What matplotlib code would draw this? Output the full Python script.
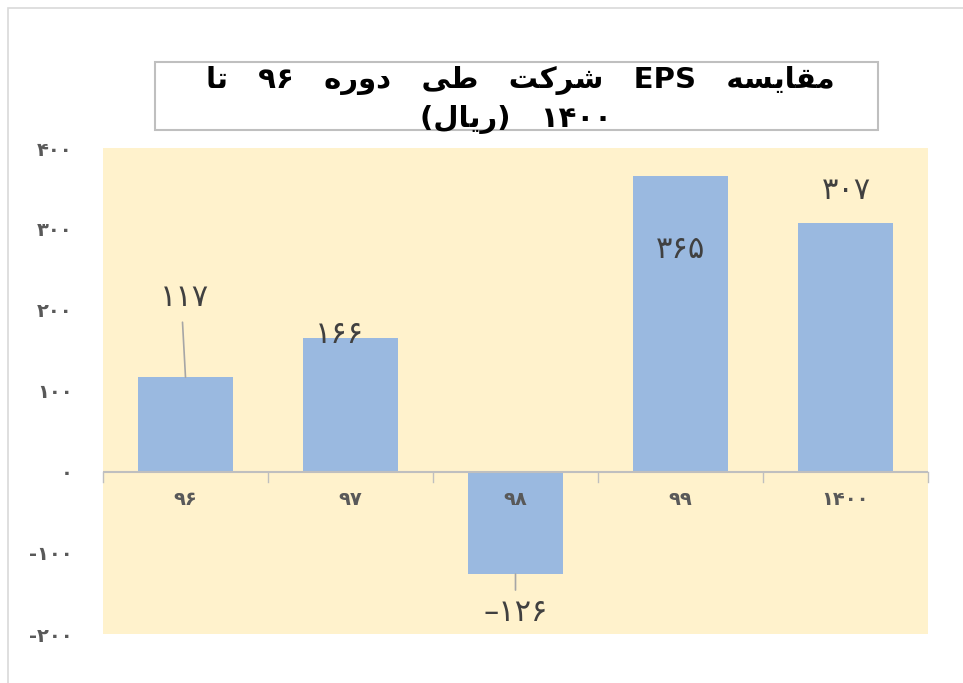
import matplotlib
matplotlib.use("Agg")
import matplotlib.pyplot as plt
from matplotlib.patches import Rectangle

# ---------------- data ----------------
categories = ["۹۶", "۹۷", "۹۸", "۹۹", "۱۴۰۰"]
eps_values = [117, 166, -126, 365, 307]
value_labels = ["۱۱۷", "۱۶۶", "–۱۲۶", "۳۶۵", "۳۰۷"]
y_ticks = [-200, -100, 0, 100, 200, 300, 400]
y_tick_labels = ["-۲۰۰", "-۱۰۰", "۰", "۱۰۰", "۲۰۰", "۳۰۰", "۴۰۰"]
title_line1 = "مقایسه EPS شرکت طی دوره ۹۶ تا"
title_line2 = "۱۴۰۰ (ریال)"

# ------------- minimal Arabic-script shaping (matplotlib has no bidi/shaping) -------------
FORMS = {
    'ا': ('\uFE8D', '\uFE8E', None, None),
    'ت': ('\uFE95', '\uFE96', '\uFE97', '\uFE98'),
    'د': ('\uFEA9', '\uFEAA', None, None),
    'ر': ('\uFEAD', '\uFEAE', None, None),
    'س': ('\uFEB1', '\uFEB2', '\uFEB3', '\uFEB4'),
    'ش': ('\uFEB5', '\uFEB6', '\uFEB7', '\uFEB8'),
    'ط': ('\uFEC1', '\uFEC2', '\uFEC3', '\uFEC4'),
    'ق': ('\uFED5', '\uFED6', '\uFED7', '\uFED8'),
    'ل': ('\uFEDD', '\uFEDE', '\uFEDF', '\uFEE0'),
    'م': ('\uFEE1', '\uFEE2', '\uFEE3', '\uFEE4'),
    'ه': ('\uFEE9', '\uFEEA', '\uFEEB', '\uFEEC'),
    'و': ('\uFEED', '\uFEEE', None, None),
    'ی': ('\uFBFC', '\uFBFD', '\uFBFE', '\uFBFF'),
    'ک': ('\uFB8E', '\uFB8F', '\uFB90', '\uFB91'),
}


def shape_word(w):
    out = []
    for i, c in enumerate(w):
        if c not in FORMS:
            out.append(c)
            continue
        prev = w[i - 1] if i > 0 else None
        nxt = w[i + 1] if i + 1 < len(w) else None
        jp = prev in FORMS and FORMS[prev][2] is not None
        jn = nxt in FORMS and FORMS[c][2] is not None
        iso, fin, ini, med = FORMS[c]
        if jp and jn:
            out.append(med)
        elif jp:
            out.append(fin)
        elif jn:
            out.append(ini)
        else:
            out.append(iso)
    return ''.join(out)


def visual(line, sep='   '):
    toks = line.split(' ')
    res = []
    for t in reversed(toks):
        if any(ch in FORMS for ch in t):
            s = shape_word(t)[::-1]
            s = s.translate(str.maketrans('()', ')('))
            res.append(s)
        else:
            res.append(t)
    return sep.join(res)


plt.rcParams['font.family'] = ['DejaVu Sans']

W, H = 963, 683
fig = plt.figure(figsize=(W / 100, H / 100), dpi=100)
fig.patch.set_facecolor('white')

# outer chart border
fig.patches.append(Rectangle((8 / W, -0.01), 1.02, 1 - 8 / H + 0.01, transform=fig.transFigure,
                             fill=False, edgecolor='#D9D9D9', lw=1.2))

ax = fig.add_axes([103 / W, 1 - 634 / H, (928 - 103) / W, (634 - 148) / H])
ax.set_facecolor('#FFF2CC')

x = list(range(len(categories)))
bars = ax.bar(x, eps_values, width=0.57, color='#9AB9E0', edgecolor='none', zorder=2)

ax.set_xlim(-0.5, len(categories) - 0.5)
ax.set_ylim(-200, 400)
for s in ax.spines.values():
    s.set_visible(False)

# x axis line at 0 with tick marks at category boundaries
ax.axhline(0, color='#BFBFBF', lw=1.5, zorder=3)
for b in range(len(categories) + 1):
    ax.plot([b - 0.5, b - 0.5], [0, -12], color='#BFBFBF', lw=1, zorder=3, clip_on=False)

ax.set_xticks([])
ax.set_yticks(y_ticks)
ax.set_yticklabels(y_tick_labels, fontsize=14, fontweight='bold', color='#595959')
ax.tick_params(axis='y', length=0, pad=22)

# category labels just below the zero line
for xi, c in zip(x, categories):
    ax.annotate(c, (xi, 0), xytext=(0, -28), textcoords='offset pixels',
                ha='center', va='center', fontsize=14, fontweight='bold', color='#595959', zorder=4)

# data labels (offsets in pixels), same order as categories
offsets = [(-1, 80), (-11, 3), (0, -38), (0, -73), (1, 33)]
for xi, v, lab, off in zip(x, eps_values, value_labels, offsets):
    ax.annotate(lab, (xi, v), xytext=off, textcoords='offset pixels', ha='center', va='center',
                fontsize=22, color='#404040', zorder=5)

# leader lines
ax.annotate('', (0, eps_values[0]), xytext=(-3, 55), textcoords='offset pixels',
            arrowprops=dict(arrowstyle='-', color='#A6A6A6', lw=1.2, shrinkA=0, shrinkB=0))
ax.annotate('', (2, eps_values[2]), xytext=(0, -16), textcoords='offset pixels',
            arrowprops=dict(arrowstyle='-', color='#A6A6A6', lw=1.2, shrinkA=0, shrinkB=0))

# title box
fig.patches.append(Rectangle((155 / W, 1 - 130 / H), (878 - 155) / W, 68 / H, transform=fig.transFigure,
                             facecolor='white', edgecolor='#BFBFBF', lw=1.5, zorder=1))
fig.text(520 / W, 1 - 80 / H, visual(title_line1), ha='center', va='center', fontsize=21,
         fontweight='bold', color='black')
fig.text(516 / W, 1 - 120 / H, visual(title_line2), ha='center', va='center', fontsize=21,
         fontweight='bold', color='black')

fig.savefig('out.png', dpi=100)
